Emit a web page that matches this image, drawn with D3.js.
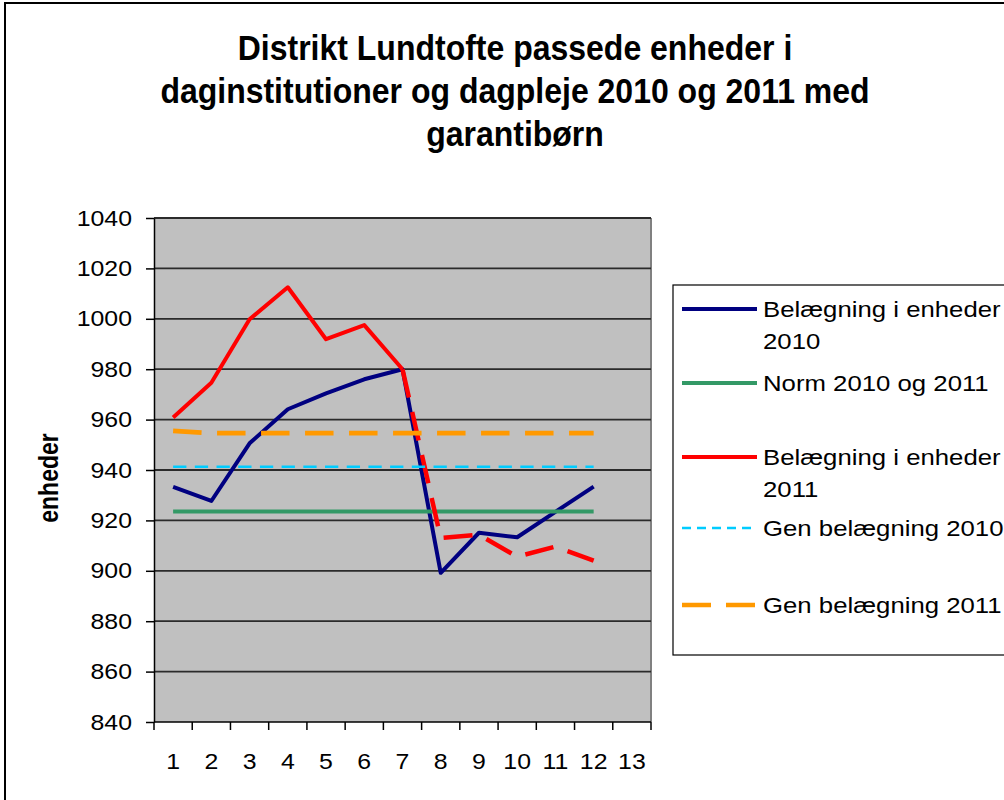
<!DOCTYPE html>
<html>
<head>
<meta charset="utf-8">
<script src="https://cdn.jsdelivr.net/npm/d3@7"></script>
<style>
  body { margin: 0; background: #fff; }
  svg { display: block; font-family: "Liberation Sans", Arial, sans-serif; }
</style>
</head>
<body>
<svg id="chart" width="1004" height="800"></svg>
<script>
// chart data
const months = [1, 2, 3, 4, 5, 6, 7, 8, 9, 10, 11, 12, 13];
const yTicks = [840, 860, 880, 900, 920, 940, 960, 980, 1000, 1020, 1040];

const belaeg2010 = [933.3, 927.7, 950.6, 964.1, 970.4, 976.0, 980.0, 899.2, 915.1, 913.3, 923.4, 933.4];
const norm = [923.5, 923.5, 923.5, 923.5, 923.5, 923.5, 923.5, 923.5, 923.5, 923.5, 923.5, 923.5];
const belaeg2011 = [960.8, 974.6, 999.8, 1012.5, 991.9, 997.5, 980.0, 913.0, 914.3, 905.6, 909.6, 904.0];
const gen2010 = [941.3, 941.3, 941.3, 941.3, 941.3, 941.3, 941.3, 941.3, 941.3, 941.3, 941.3, 941.3];
const gen2011 = [955.5, 954.6, 954.6, 954.6, 954.6, 954.6, 954.6, 954.6, 954.6, 954.6, 954.6, 954.6];

const titleLines = [
    "Distrikt Lundtofte passede enheder i",
    "daginstitutioner og dagpleje 2010 og 2011 med",
    "garantibørn",
];

// the picture is stretched a bit sideways, so axis/legend text gets a horizontal scale
const sx = 1.13;

const svg = d3.select("#chart");
const plot = { left: 154, right: 651, top: 218, bottom: 722 };

// outer frame
svg.append("rect")
    .attr("x", 5).attr("y", 3)
    .attr("width", 1010).attr("height", 810)
    .attr("fill", "#fff")
    .attr("stroke", "#000")
    .attr("stroke-width", 2);

// title (this one is taller than wide)
svg.append("g")
    .selectAll("text")
    .data(titleLines)
    .enter()
    .append("text")
    .attr("transform", (d, i) => `translate(515,${60 + i * 43}) scale(1,1.1)`)
    .attr("text-anchor", "middle")
    .attr("font-size", 32)
    .attr("font-weight", "bold")
    .text((d) => d);

const x = d3.scaleBand()
    .domain(months)
    .range([plot.left, plot.right])
    .padding(0);

const y = d3.scaleLinear()
    .domain([840, 1040])
    .range([plot.bottom, plot.top]);

const cx = (i) => x(months[i]) + x.bandwidth() / 2;

// plot background
svg.append("rect")
    .attr("x", plot.left)
    .attr("y", plot.top)
    .attr("width", plot.right - plot.left)
    .attr("height", plot.bottom - plot.top)
    .attr("fill", "#c0c0c0");

// right border of the plot area
svg.append("line")
    .attr("x1", plot.right).attr("x2", plot.right)
    .attr("y1", plot.top).attr("y2", plot.bottom)
    .attr("stroke", "#808080")
    .attr("stroke-width", 2);

// gridlines
svg.append("g")
    .selectAll("line")
    .data(yTicks.slice(1))
    .enter()
    .append("line")
    .attr("x1", plot.left)
    .attr("x2", plot.right)
    .attr("y1", (d) => y(d))
    .attr("y2", (d) => y(d))
    .attr("stroke", "#2b2b2b")
    .attr("stroke-width", 1.8);

// y axis
const yAxis = svg.append("g")
    .attr("transform", `translate(${plot.left},0)`)
    .call(d3.axisLeft(y).tickValues(yTicks).tickFormat(d3.format("d")).tickSize(8).tickSizeOuter(0));
yAxis.select(".domain").attr("stroke", "#000").attr("stroke-width", 1.5);
yAxis.selectAll(".tick line").attr("stroke", "#000").attr("stroke-width", 1.5);
yAxis.selectAll(".tick text")
    .attr("font-family", "Liberation Sans, Arial, sans-serif")
    .attr("font-size", 22)
    .attr("fill", "#000")
    .attr("x", -22 / sx)
    .attr("transform", `scale(${sx},1)`);

// x axis: ticks between categories, labels in the middle
const xAxis = svg.append("g")
    .attr("transform", `translate(0,${plot.bottom})`)
    .call(d3.axisBottom(x).tickSize(0).tickPadding(0));
xAxis.select(".domain").remove();
xAxis.selectAll(".tick text")
    .attr("font-family", "Liberation Sans, Arial, sans-serif")
    .attr("font-size", 22)
    .attr("fill", "#000")
    .attr("dy", null)
    .attr("y", 47)
    .attr("transform", `scale(${sx},1)`);

const bounds = months.map((m) => x(m)).concat([plot.right]);
svg.append("g")
    .selectAll("line")
    .data(bounds)
    .enter()
    .append("line")
    .attr("x1", (d) => d).attr("x2", (d) => d)
    .attr("y1", plot.bottom).attr("y2", plot.bottom + 8)
    .attr("stroke", "#000")
    .attr("stroke-width", 1.5);
svg.append("line")
    .attr("x1", plot.left).attr("x2", plot.right)
    .attr("y1", plot.bottom).attr("y2", plot.bottom)
    .attr("stroke", "#000")
    .attr("stroke-width", 1.5);

// y axis title
svg.append("text")
    .attr("transform", "translate(58,478) rotate(-90) scale(1,1.2)")
    .attr("text-anchor", "middle")
    .attr("font-size", 23)
    .attr("font-weight", "bold")
    .text("enheder");

// series
const line = d3.line()
    .x((d) => cx(d.i))
    .y((d) => y(d.v));
const pts = (arr) => arr.map((v, i) => ({ i, v }));

const series = [
    { name: "Belægning i enheder 2010", data: pts(belaeg2010), color: "#000080", width: 4, dash: null },
    { name: "Norm 2010 og 2011", data: pts(norm), color: "#339966", width: 4, dash: null },
    { name: "Belægning i enheder 2011", data: pts(belaeg2011).slice(0, 7), color: "#ff0000", width: 4, dash: null },
    { name: "Belægning i enheder 2011 (rest)", data: pts(belaeg2011).slice(6), color: "#ff0000", width: 4.5, dash: "29,15" },
    { name: "Gen belægning 2010", data: pts(gen2010), color: "#00ccff", width: 2.6, dash: "13.3,8.4" },
    { name: "Gen belægning 2011", data: pts(gen2011), color: "#ff9900", width: 4.7, dash: "28.5,15.5" },
];

svg.append("g")
    .selectAll("path")
    .data(series)
    .enter()
    .append("path")
    .attr("d", (d) => line(d.data))
    .attr("fill", "none")
    .attr("stroke", (d) => d.color)
    .attr("stroke-width", (d) => d.width)
    .attr("stroke-dasharray", (d) => d.dash)
    .attr("stroke-linejoin", "round");

// legend
const legendItems = [
    { lines: ["Belægning i enheder", "2010"], color: "#000080", width: 4, dash: null, y: 309 },
    { lines: ["Norm 2010 og 2011"], color: "#339966", width: 4, dash: null, y: 383 },
    { lines: ["Belægning i enheder", "2011"], color: "#ff0000", width: 4, dash: null, y: 457 },
    { lines: ["Gen belægning 2010"], color: "#00ccff", width: 2.6, dash: "9,6", y: 528 },
    { lines: ["Gen belægning 2011"], color: "#ff9900", width: 4.7, dash: "29,15", y: 605 },
];

const legend = svg.append("g");
legend.append("rect")
    .attr("x", 673).attr("y", 285)
    .attr("width", 360).attr("height", 370)
    .attr("fill", "#fff")
    .attr("stroke", "#000")
    .attr("stroke-width", 1.2);

const item = legend.selectAll("g.item")
    .data(legendItems)
    .enter()
    .append("g")
    .attr("class", "item");

item.append("line")
    .attr("x1", 682).attr("x2", 757)
    .attr("y1", (d) => d.y).attr("y2", (d) => d.y)
    .attr("stroke", (d) => d.color)
    .attr("stroke-width", (d) => d.width)
    .attr("stroke-dasharray", (d) => d.dash);

item.each(function (d) {
    d3.select(this)
        .selectAll("text")
        .data(d.lines)
        .enter()
        .append("text")
        .attr("transform", (t, k) => `translate(763,${d.y + 8 + k * 31.5}) scale(1.12,1)`)
        .attr("font-size", 23)
        .attr("fill", "#000")
        .text((t) => t);
});
</script>
</body>
</html>
